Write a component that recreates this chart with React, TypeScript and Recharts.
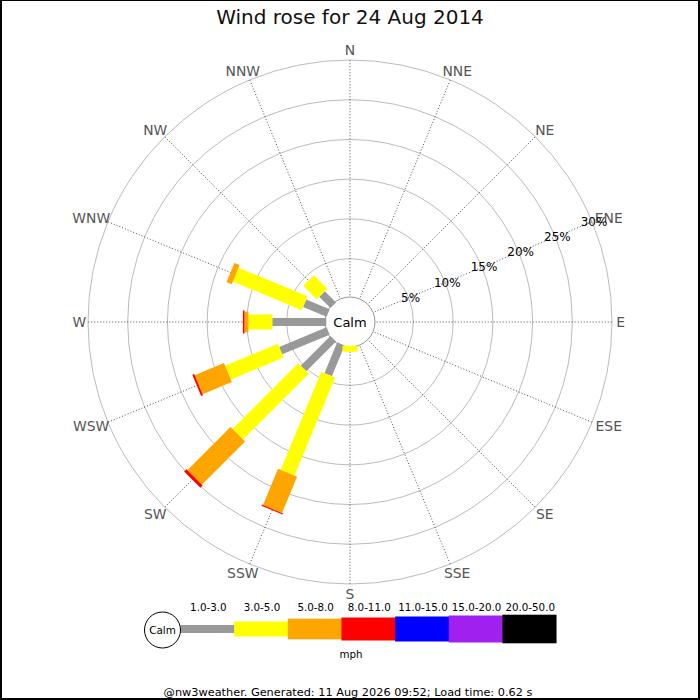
import React from "react";
import {
  RadialBarChart,
  RadialBar,
  PolarGrid,
  PolarAngleAxis,
  PolarRadiusAxis,
  Legend,
  Customized,
} from "recharts";

const directions = ["N", "NNE", "NE", "ENE", "E", "ESE", "SE", "SSE", "S", "SSW", "SW", "WSW", "W", "WNW", "NW", "NNW"];
const bearings = [0, 22.5, 45, 67.5, 90, 112.5, 135, 157.5, 180, 202.5, 225, 247.5, 270, 292.5, 315, 337.5];
const speedBands = ["1.0-3.0", "3.0-5.0", "5.0-8.0", "8.0-11.0", "11.0-15.0", "15.0-20.0", "20.0-50.0"];

// % of the day from each direction, per speed band (mph)
const mph1to3 = [0, 0, 0, 0, 0, 0, 0, 0, 0, 4.2, 5.3, 6.45, 6.8, 3.2, 2.0, 0];
const mph3to5 = [0, 0, 0, 0, 0, 0, 0, 0, 0.75, 13.35, 11.7, 7.2, 3.0, 9.4, 2.4, 0];
const mph5to8 = [0, 0, 0, 0, 0, 0, 0, 0, 0, 4.95, 7.7, 4.0, 0.5, 0.7, 0, 0];
const mph8to11 = [0, 0, 0, 0, 0, 0, 0, 0, 0, 0.15, 0.4, 0.25, 0.2, 0, 0, 0];
const mph11to15 = [0, 0, 0, 0, 0, 0, 0, 0, 0, 0, 0, 0, 0, 0, 0, 0];
const mph15to20 = [0, 0, 0, 0, 0, 0, 0, 0, 0, 0, 0, 0, 0, 0, 0, 0];
const mph20to50 = [0, 0, 0, 0, 0, 0, 0, 0, 0, 0, 0, 0, 0, 0, 0, 0];

const pctTicks = [0, 5, 10, 15, 20, 25, 30];

const bandSeries = [mph1to3, mph3to5, mph5to8, mph8to11, mph11to15, mph15to20, mph20to50];
const bandColors = ["#999999", "#ffff00", "#ffa500", "#ff0000", "#0000ff", "#a020f0", "#000000"];
const bandWidths = [8, 15, 20.6, 23, 25, 27, 28.6];

const data = directions.map((dir, i) => {
  const row: Record<string, any> = { dir, deg: bearings[i] };
  bandSeries.forEach((s, k) => (row[`b${k}`] = s[i]));
  return row;
});

const W = 700;
const H = 700;
const CX = 350;
const CY = 322;
const R_IN = 23.7;
const R_OUT = 262;
const FONT = "'DejaVu Sans', sans-serif";

const dirName = (deg: number) => directions[bearings.indexOf(deg)] ?? "";

// draw each stacked segment as a straight bar of fixed width along the sector's centre line
const barShape = (w: number) => (p: any) => {
  const { cx, cy, innerRadius, outerRadius, startAngle, endAngle, fill } = p;
  if (!(outerRadius - innerRadius > 0.05)) return <g />;
  const a = (((startAngle + endAngle) / 2) * Math.PI) / 180;
  const ux = Math.cos(a);
  const uy = -Math.sin(a);
  const nx = (-uy * w) / 2;
  const ny = (ux * w) / 2;
  const pts = [
    [innerRadius, 1],
    [outerRadius, 1],
    [outerRadius, -1],
    [innerRadius, -1],
  ]
    .map(([r, s]) => `${cx + ux * r + s * nx},${cy + uy * r + s * ny}`)
    .join(" ");
  return <polygon points={pts} fill={fill} />;
};

const DirTick = (props: any) => {
  const { payload } = props;
  const a = (payload.coordinate * Math.PI) / 180;
  const ux = Math.cos(a);
  const uy = -Math.sin(a);
  const label = dirName(payload.value);
  const hw = label.length * 4.7;
  const r = R_OUT + 4;
  return (
    <text
      x={CX + ux * r + ux * hw}
      y={CY + uy * r + uy * 6}
      textAnchor="middle"
      dominantBaseline="central"
      fontSize={13.9}
      fontFamily={FONT}
      fill="#555"
    >
      {label}
    </text>
  );
};

const PctTick = (props: any) => {
  const { x, y, payload } = props;
  if (payload.value === 0) return <g />;
  return (
    <text x={x + 2} y={y} textAnchor="middle" dominantBaseline="central" fontSize={12} fontFamily={FONT} fill="#000">
      {`${payload.value}%`}
    </text>
  );
};

const renderLegend = () => {
  const top = 590;
  const x0 = 180.5;
  const step = 53.65;
  return (
    <svg width={W} height={80} style={{ display: "block" }}>
      <g transform={`translate(0,${-top})`}>
        {speedBands.map((band, k) => (
          <g key={band}>
            <rect
              x={x0 + k * step}
              y={629 - bandWidths[k] / 2}
              width={step + 0.5}
              height={bandWidths[k]}
              fill={bandColors[k]}
            />
            <text
              x={x0 + k * step + step / 2 + 1}
              y={607}
              textAnchor="middle"
              dominantBaseline="central"
              fontSize={10.3}
              fontFamily={FONT}
              fill="#000"
            >
              {band}
            </text>
          </g>
        ))}
        <circle cx={162.5} cy={630} r={18} fill="#fff" stroke="#000" strokeWidth={1} />
        <text x={162.5} y={630} textAnchor="middle" dominantBaseline="central" fontSize={10.4} fontFamily={FONT}>
          Calm
        </text>
        <text x={351} y={654} textAnchor="middle" dominantBaseline="central" fontSize={10.3} fontFamily={FONT}>
          mph
        </text>
      </g>
    </svg>
  );
};

const Overlay = () => (
  <g>
    <text x={CX} y={24} textAnchor="middle" fontSize={20} fontFamily={FONT} fill="#111">
      Wind rose for 24 Aug 2014
    </text>
    <circle cx={CX} cy={CY} r={25} fill="#fff" stroke="#999" strokeWidth={1} />
    <text x={CX} y={CY} textAnchor="middle" dominantBaseline="central" fontSize={13} fontFamily={FONT} fill="#000">
      Calm
    </text>
    <text x={348} y={692} textAnchor="middle" dominantBaseline="central" fontSize={11.3} fontFamily={FONT} fill="#000">
      @nw3weather. Generated: 11 Aug 2026 09:52; Load time: 0.62 s
    </text>
  </g>
);

const css = `
.recharts-polar-grid-angle line { stroke: #222; stroke-dasharray: 1 2; stroke-width: 0.8; }
.recharts-polar-grid-concentric circle, .recharts-polar-grid-concentric path { stroke: #aaa; stroke-width: 0.8; }
`;

export default function App() {
  return (
    <div style={{ position: "absolute", left: 0, top: 0, width: W, height: H, background: "#fff" }}>
      <style>{css}</style>
      <RadialBarChart
        width={W}
        height={H}
        data={data}
        cx={CX}
        cy={CY}
        innerRadius={R_IN}
        outerRadius={R_OUT}
        startAngle={90}
        endAngle={-270}
        layout="centric"
        margin={{ top: 0, right: 0, bottom: 0, left: 0 }}
      >
        <PolarGrid gridType="circle" stroke="#aaa" />
        <PolarAngleAxis
          dataKey="deg"
          type="number"
          domain={[0, 360]}
          ticks={bearings}
          tick={<DirTick />}
          tickLine={false}
          axisLine={false}
        />
        <PolarRadiusAxis
          type="number"
          domain={[0, 30]}
          ticks={pctTicks}
          angle={22.5}
          tick={<PctTick />}
          tickLine={false}
          axisLine={false}
        />
        {speedBands.map((band, k) => (
          <RadialBar
            key={band}
            dataKey={`b${k}`}
            name={band}
            stackId="wind"
            fill={bandColors[k]}
            shape={barShape(bandWidths[k])}
            isAnimationActive={false}
          />
        ))}
        <Customized component={<Overlay />} />
        <Legend content={renderLegend} wrapperStyle={{ position: "absolute", left: 0, top: 590, width: W, height: 80 }} />
      </RadialBarChart>
      <div
        style={{
          position: "absolute",
          inset: 0,
          borderStyle: "solid",
          borderColor: "#000",
          borderWidth: "1px 2px 2px 2px",
          pointerEvents: "none",
        }}
      />
    </div>
  );
}
